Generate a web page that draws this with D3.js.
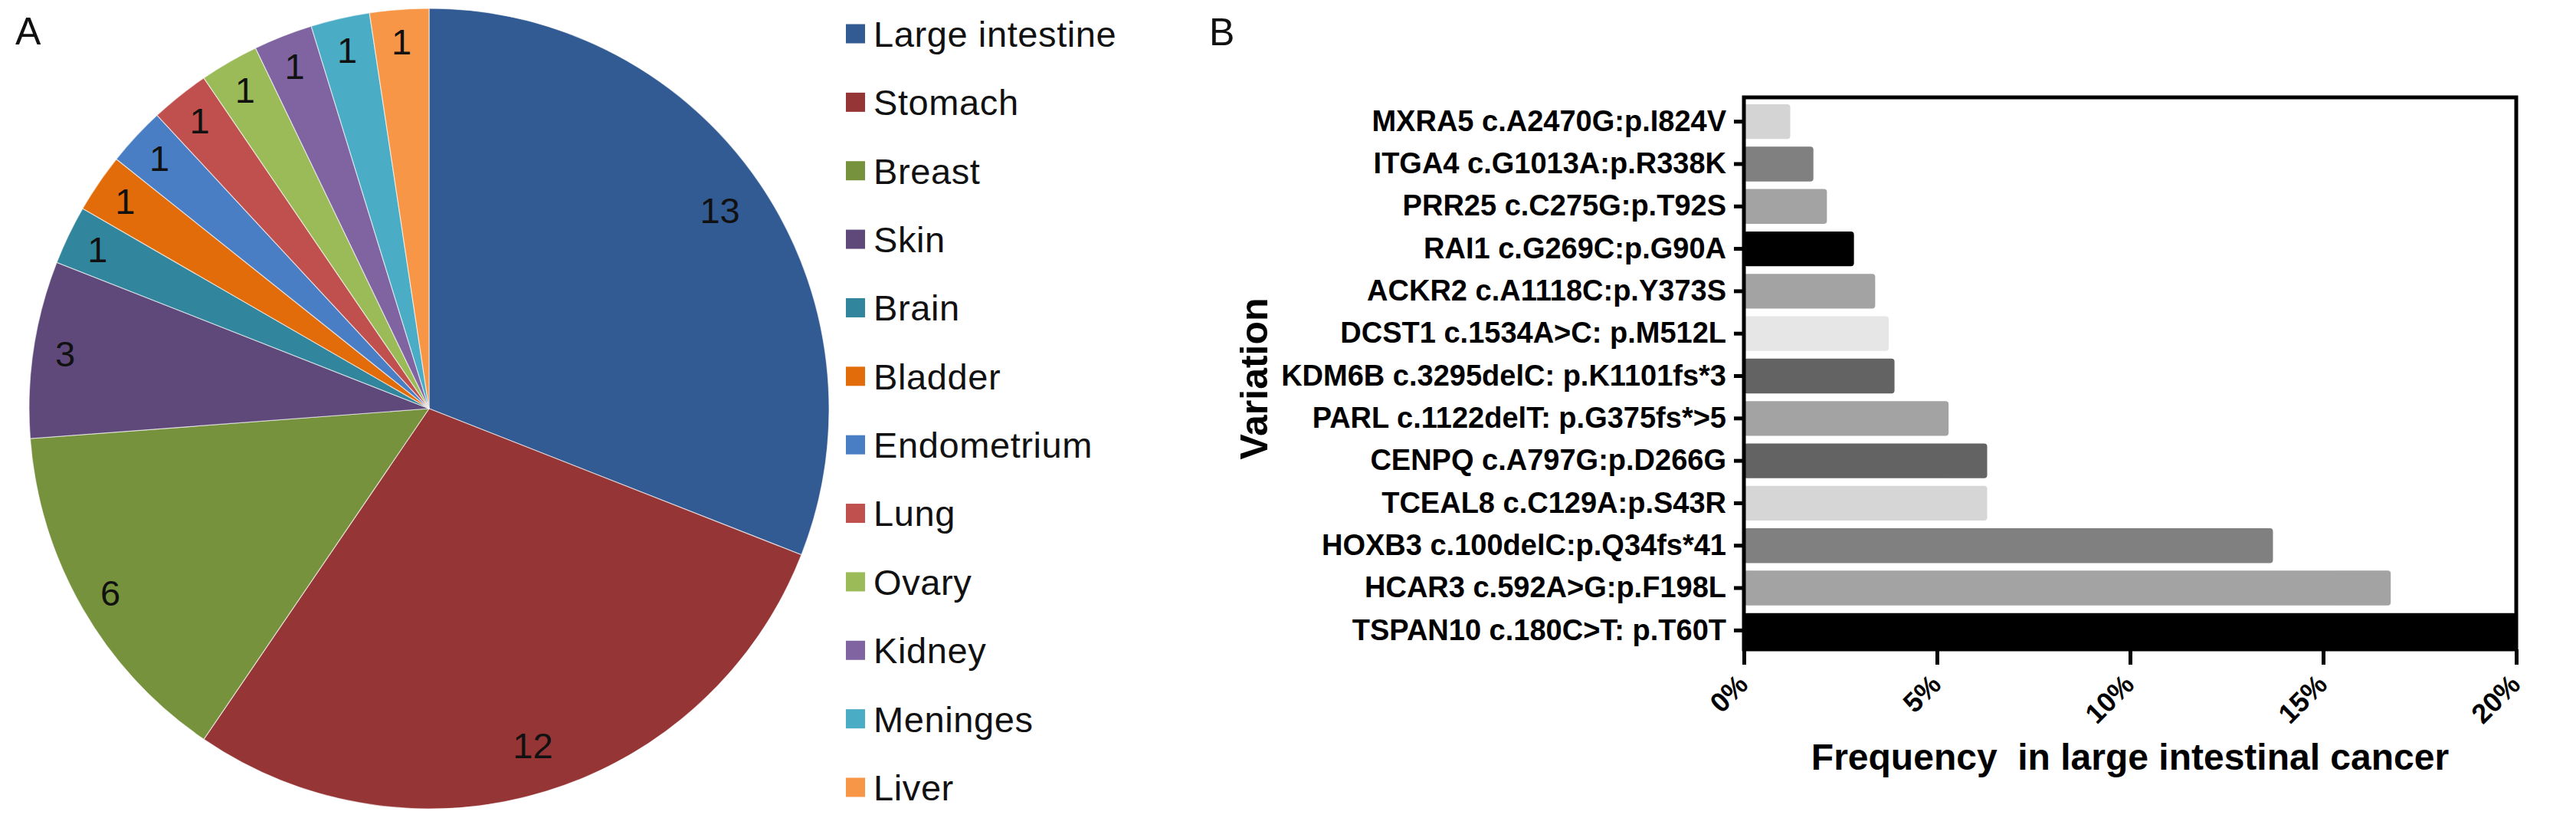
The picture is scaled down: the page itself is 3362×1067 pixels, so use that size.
<!DOCTYPE html>
<html><head><meta charset="utf-8">
<script src="https://cdn.jsdelivr.net/npm/d3@7"></script>
<style>html,body{margin:0;padding:0;background:#fff;} svg{display:block;}</style>
</head><body>
<svg id="chart" width="3362" height="1067"></svg>
<script>
// ---------- Panel A data ----------
const tissues = ["Large intestine","Stomach","Breast","Skin","Brain","Bladder","Endometrium","Lung","Ovary","Kidney","Meninges","Liver"];
const tissueCounts = [13,12,6,3,1,1,1,1,1,1,1,1];
const tissueColors = ["#325A93","#953536","#76923C","#5F497A","#31859C","#E36C0A","#4A7EC4","#C0504D","#9BBB59","#8064A2","#4BACC6","#F79646"];

// ---------- Panel B data ----------
const variants = [
  "MXRA5 c.A2470G:p.I824V",
  "ITGA4 c.G1013A:p.R338K",
  "PRR25 c.C275G:p.T92S",
  "RAI1 c.G269C:p.G90A",
  "ACKR2 c.A1118C:p.Y373S",
  "DCST1 c.1534A>C: p.M512L",
  "KDM6B c.3295delC: p.K1101fs*3",
  "PARL c.1122delT: p.G375fs*>5",
  "CENPQ c.A797G:p.D266G",
  "TCEAL8 c.C129A:p.S43R",
  "HOXB3 c.100delC:p.Q34fs*41",
  "HCAR3 c.592A>G:p.F198L",
  "TSPAN10 c.180C>T: p.T60T"
];
const frequencies = [1.2, 1.8, 2.15, 2.85, 3.4, 3.75, 3.9, 5.3, 6.3, 6.3, 13.7, 16.75, 20];
const barColors = ["#d4d4d4","#808080","#a3a3a3","#000000","#a3a3a3","#e6e6e6","#636363","#a3a3a3","#636363","#d6d6d6","#808080","#a3a3a3","#000000"];
const xTicks = [0,5,10,15,20];

const FONT = "'Liberation Sans', Arial, Helvetica, sans-serif";
const svg = d3.select("#chart");
svg.append("rect").attr("width",3362).attr("height",1067).attr("fill","#fff");

// ================= Panel A: pie =================
const cx = 560, cy = 533, R = 522;
const pieGen = d3.pie().sort(null).value(d => d);
const arcs = pieGen(tissueCounts);
const arcGen = d3.arc().innerRadius(0).outerRadius(R);
const gPie = svg.append("g").attr("transform", `translate(${cx},${cy})`);
gPie.selectAll("path").data(arcs).join("path")
  .attr("d", arcGen)
  .attr("fill", (d,i) => tissueColors[i])
  .attr("stroke", "#ffffff").attr("stroke-width", 1.2).attr("stroke-opacity", 0.6);

gPie.selectAll("text").data(arcs).join("text")
  .attr("transform", d => {
    const rr = R * (d.value >= 10 ? 0.88 : 0.92);
    const c = d3.arc().innerRadius(rr).outerRadius(rr).centroid(d);
    return `translate(${c[0]},${c[1]})`;
  })
  .attr("text-anchor","middle").attr("dy","0.36em")
  .attr("font-family", FONT).attr("font-size", 47).attr("fill","#111")
  .text(d => d.value);

// legend
const ly = d3.scalePoint().domain(tissues).range([44, 1027]);
const gLeg = svg.append("g");
gLeg.selectAll("rect").data(tissues).join("rect")
  .attr("x", 1104).attr("y", d => ly(d) - 12.5)
  .attr("width", 25).attr("height", 25)
  .attr("fill", (d,i) => tissueColors[i]);
gLeg.selectAll("text").data(tissues).join("text")
  .attr("x", 1140).attr("y", d => ly(d)).attr("dy","0.36em")
  .attr("font-family", FONT).attr("font-size", 47).attr("fill","#111")
  .attr("letter-spacing", 0.6)
  .text(d => d);

svg.append("text").attr("x", 20).attr("y", 58)
  .attr("font-family", FONT).attr("font-size", 50).attr("fill","#111").text("A");

// ================= Panel B: bars =================
const x = d3.scaleLinear().domain([0, 20]).range([2276, 3284]);
const y = d3.scaleBand().domain(variants).range([131, 850]).paddingInner(0.18).paddingOuter(0.09);
const axisY = 847;

svg.append("g").selectAll("rect").data(variants).join("rect")
  .attr("x", x(0)).attr("y", d => y(d))
  .attr("width", (d,i) => x(frequencies[i]) - x(0))
  .attr("height", y.bandwidth())
  .attr("rx", 4)
  .attr("fill", (d,i) => barColors[i]);

// frame
svg.append("rect").attr("x", x(0)).attr("y", 127)
  .attr("width", x(20) - x(0)).attr("height", axisY - 127)
  .attr("fill","none").attr("stroke","#000").attr("stroke-width",5);

// y axis
const gy = svg.append("g").attr("transform", `translate(${x(0)},0)`)
  .call(d3.axisLeft(y).tickSize(13).tickPadding(10));
gy.select(".domain").remove();
gy.selectAll(".tick line").attr("stroke","#000").attr("stroke-width",5);
gy.selectAll(".tick text").attr("font-family", FONT).attr("font-weight","bold")
  .attr("font-size", 38).attr("fill","#000");

// x axis
const gx = svg.append("g").attr("transform", `translate(0,${axisY})`)
  .call(d3.axisBottom(x).tickValues(xTicks).tickSize(20).tickFormat(d => d + "%"));
gx.select(".domain").remove();
gx.selectAll(".tick line").attr("stroke","#000").attr("stroke-width",5);
gx.selectAll(".tick text")
  .attr("x", 0).attr("y", 0).attr("dy", 0)
  .attr("transform", "translate(7,48) rotate(-45)")
  .attr("text-anchor","end")
  .attr("font-family", FONT).attr("font-weight","bold")
  .attr("font-size", 36).attr("fill","#000");

// axis titles
svg.append("text").attr("x", (x(0)+x(20))/2).attr("y", 1004)
  .attr("text-anchor","middle")
  .attr("font-family", FONT).attr("font-weight","bold").attr("font-size", 48).attr("fill","#000")
  .attr("xml:space","preserve").style("white-space","pre")
  .text("Frequency  in large intestinal cancer");

svg.append("text").attr("transform", "translate(1654,494) rotate(-90)")
  .attr("text-anchor","middle")
  .attr("font-family", FONT).attr("font-weight","bold").attr("font-size", 50).attr("fill","#000")
  .text("Variation");

svg.append("text").attr("x", 1578).attr("y", 59)
  .attr("font-family", FONT).attr("font-size", 50).attr("fill","#111").text("B");
</script>
</body></html>
